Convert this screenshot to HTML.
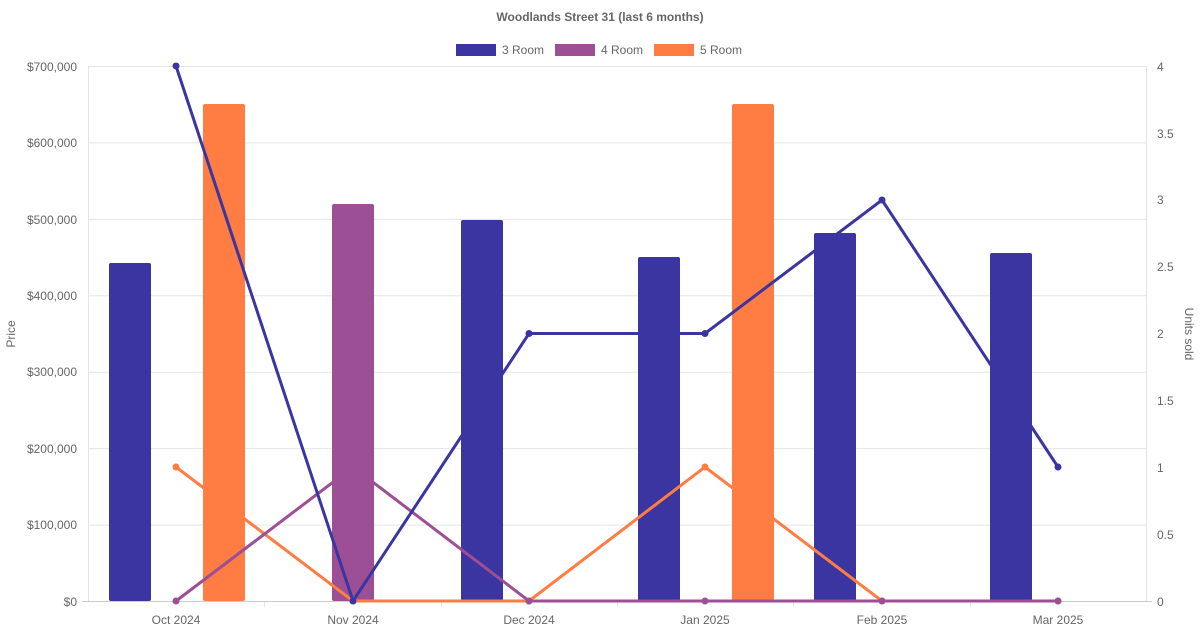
<!DOCTYPE html>
<html><head><meta charset="utf-8"><style>
html,body{margin:0;padding:0;background:#fff;}
svg{display:block;font-family:"Liberation Sans",sans-serif;}
</style></head><body>
<svg width="1200" height="630" viewBox="0 0 1200 630">
<text x="600" y="21" text-anchor="middle" font-size="12" font-weight="bold" fill="#666">Woodlands Street 31 (last 6 months)</text>
<!-- legend -->
<rect x="456" y="44" width="40" height="12" fill="#3a35a0"/><text x="502" y="54" font-size="12" fill="#666">3 Room</text>
<rect x="555" y="44" width="40" height="12" fill="#9c4f94"/><text x="601" y="54" font-size="12" fill="#666">4 Room</text>
<rect x="654" y="44" width="40" height="12" fill="#ff7c43"/><text x="700" y="54" font-size="12" fill="#666">5 Room</text>
<!-- grid -->
<g stroke="#e5e5e5" stroke-width="1">
<line x1="88" y1="66.5" x2="1146" y2="66.5"/>
<line x1="88" y1="142.9" x2="1146" y2="142.9"/>
<line x1="88" y1="219.4" x2="1146" y2="219.4"/>
<line x1="88" y1="295.8" x2="1146" y2="295.8"/>
<line x1="88" y1="372.2" x2="1146" y2="372.2"/>
<line x1="88" y1="448.6" x2="1146" y2="448.6"/>
<line x1="88" y1="525.1" x2="1146" y2="525.1"/>
<line x1="88.5" y1="66" x2="88.5" y2="601"/>
<line x1="1146.5" y1="66" x2="1146.5" y2="601"/>
<line x1="264.5" y1="601" x2="264.5" y2="607"/><line x1="441.5" y1="601" x2="441.5" y2="607"/><line x1="617.5" y1="601" x2="617.5" y2="607"/><line x1="793.5" y1="601" x2="793.5" y2="607"/><line x1="970.5" y1="601" x2="970.5" y2="607"/>
</g>
<line x1="82" y1="601.5" x2="1152" y2="601.5" stroke="#ccc"/>
<!-- left ticks -->
<g font-size="12" fill="#666" text-anchor="end">
<text x="77" y="71">$700,000</text><text x="77" y="147">$600,000</text><text x="77" y="224">$500,000</text>
<text x="77" y="300">$400,000</text><text x="77" y="376">$300,000</text><text x="77" y="453">$200,000</text>
<text x="77" y="529">$100,000</text><text x="77" y="606">$0</text>
</g>
<g font-size="12" fill="#666">
<text x="1157" y="71">4</text><text x="1157" y="138">3.5</text><text x="1157" y="204">3</text><text x="1157" y="271">2.5</text>
<text x="1157" y="338">2</text><text x="1157" y="405">1.5</text><text x="1157" y="472">1</text><text x="1157" y="539">0.5</text><text x="1157" y="606">0</text>
</g>
<g font-size="12" fill="#666" text-anchor="middle">
<text x="176" y="624">Oct 2024</text><text x="353" y="624">Nov 2024</text><text x="529" y="624">Dec 2024</text>
<text x="705" y="624">Jan 2025</text><text x="882" y="624">Feb 2025</text><text x="1058" y="624">Mar 2025</text>
</g>
<text transform="translate(15,334) rotate(-90)" text-anchor="middle" font-size="12" fill="#666">Price</text>
<text transform="translate(1185,334) rotate(90)" text-anchor="middle" font-size="12" fill="#666">Units sold</text>
<!-- bars -->
<g fill="#3a35a0">
<rect x="109" y="263" width="42" height="338" rx="2"/>
<rect x="461" y="220" width="42" height="381" rx="2"/>
<rect x="638" y="257" width="42" height="344" rx="2"/>
<rect x="814" y="233" width="42" height="368" rx="2"/>
<rect x="990" y="253" width="42" height="348" rx="2"/>
</g>
<rect x="332" y="204" width="42" height="397" rx="2" fill="#9c4f94"/>
<g fill="#ff7c43">
<rect x="203" y="104" width="42" height="497" rx="2"/>
<rect x="732" y="104" width="42" height="497" rx="2"/>
</g>
<!-- lines -->
<g fill="none" stroke-width="3">
<polyline stroke="#ff7c43" points="176,467 353,601 529,601 705,467 882,601 1058,601"/>
<polyline stroke="#9c4f94" points="176,601 353,467 529,601 705,601 882,601 1058,601"/>
<polyline stroke="#3a35a0" points="176,66 353,601 529,333.5 705,333.5 882,200 1058,467"/>
</g>
<g fill="#ff7c43"><circle cx="176" cy="467" r="3.5"/><circle cx="353" cy="601" r="3.5"/><circle cx="529" cy="601" r="3.5"/><circle cx="705" cy="467" r="3.5"/><circle cx="882" cy="601" r="3.5"/><circle cx="1058" cy="601" r="3.5"/></g>
<g fill="#9c4f94"><circle cx="176" cy="601" r="3.5"/><circle cx="353" cy="467" r="3.5"/><circle cx="529" cy="601" r="3.5"/><circle cx="705" cy="601" r="3.5"/><circle cx="882" cy="601" r="3.5"/><circle cx="1058" cy="601" r="3.5"/></g>
<g fill="#3a35a0"><circle cx="176" cy="66" r="3.5"/><circle cx="353" cy="601" r="3.5"/><circle cx="529" cy="333.5" r="3.5"/><circle cx="705" cy="333.5" r="3.5"/><circle cx="882" cy="200" r="3.5"/><circle cx="1058" cy="467" r="3.5"/></g>
</svg>
</body></html>
